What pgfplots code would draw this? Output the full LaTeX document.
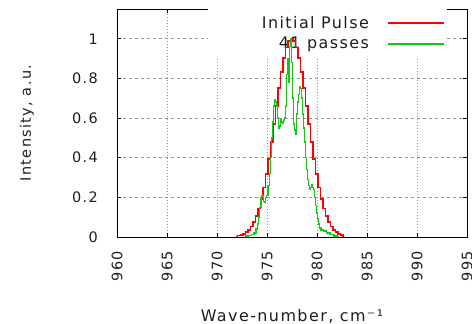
\documentclass[border=0pt]{standalone}
\usepackage{fontspec}
\setmainfont{DejaVu Sans}[LetterSpace=9]
\usepackage{pgfplots}
\pgfplotsset{compat=1.18}

\definecolor{pulsered}{rgb}{1,0,0}
\definecolor{passgreen}{RGB}{20,200,20}
\definecolor{gridgray}{RGB}{150,150,150}
\definecolor{txt}{RGB}{30,30,30}

% initial Gaussian pulse
\pgfplotstableread{
x y
971.9 0.000
972.2 0.0069
972.45 0.0101
972.7 0.0158
972.95 0.0242
973.2 0.0361
973.45 0.0528
973.7 0.0754
973.95 0.1052
974.2 0.1434
974.45 0.1912
974.7 0.2490
974.95 0.3170
975.2 0.3943
975.45 0.4794
975.7 0.5695
975.95 0.6613
976.2 0.7504
976.45 0.8321
976.7 0.9018
976.95 0.9551
977.2 0.9886
977.45 1.0000
977.7 0.9886
977.95 0.9551
978.2 0.9018
978.45 0.8321
978.7 0.7504
978.95 0.6613
979.2 0.5695
979.45 0.4794
979.7 0.3943
979.95 0.3170
980.2 0.2490
980.45 0.1912
980.7 0.1434
980.95 0.1052
981.2 0.0754
981.45 0.0528
981.7 0.0361
981.95 0.0242
982.2 0.0158
982.45 0.0101
982.7 0.000
}\initial

% spectrum after 41 passes
\pgfplotstableread{
x y
972.8 0.000
973.0 0.005
973.3 0.008
973.6 0.012
973.8 0.020
974.0 0.040
974.1 0.065
974.2 0.100
974.3 0.150
974.45 0.200
974.55 0.210
974.7 0.180
974.8 0.175
974.9 0.200
975.0 0.210
975.15 0.260
975.3 0.320
975.4 0.400
975.5 0.500
975.6 0.580
975.7 0.660
975.8 0.690
975.9 0.680
976.0 0.660
976.1 0.600
976.2 0.550
976.3 0.560
976.4 0.590
976.5 0.580
976.6 0.575
976.7 0.590
976.8 0.600
976.9 0.660
977.0 0.820
977.1 0.900
977.2 0.780
977.3 0.960
977.4 1.000
977.5 0.880
977.6 0.700
977.7 0.570
977.8 0.540
977.9 0.520
978.0 0.620
978.1 0.680
978.2 0.720
978.3 0.760
978.4 0.750
978.5 0.700
978.6 0.620
978.7 0.550
978.8 0.480
978.9 0.400
979.0 0.340
979.1 0.290
979.2 0.260
979.3 0.240
979.4 0.250
979.5 0.265
979.6 0.250
979.7 0.240
979.8 0.200
979.9 0.160
980.0 0.120
980.1 0.090
980.2 0.065
980.3 0.045
980.5 0.035
980.8 0.030
981.1 0.020
981.5 0.012
981.9 0.005
982.2 0.000
}\passes

\pgfplotsset{
  common/.style={
    scale only axis, width=350bp, height=228bp,
    xmin=960, xmax=995, ymin=0, ymax=1.15,
  },
}

\begin{document}
\begin{tikzpicture}
\useasboundingbox (-117bp,-87bp) rectangle (355bp,237bp);
% frame, grid, ticks and legend
\begin{axis}[common,
  font=\fontsize{14.5}{17}\selectfont,
  /pgf/number format/assume math mode=true,
  axis line style={black, line width=0.8bp},
  xtick={960,965,...,995}, ytick={0,0.2,...,1},
  yticklabels={0,0.2,0.4,0.6,0.8,1},
  xticklabels={960,965,970,975,980,985,990,995},
  tick align=inside, major tick length=4bp,
  tick style={black, line width=0.7bp},
  xticklabel style={rotate=90, anchor=east, inner sep=0pt, text=txt},
  xticklabel shift=14bp,
  yticklabel style={anchor=east, inner sep=0pt, text=txt},
  yticklabel shift=19bp,
  grid=major,
  x grid style={gridgray, line width=0.6bp, dash pattern=on 1bp off 2bp},
  y grid style={gridgray, line width=0.6bp, dash pattern=on 3bp off 3bp},
  xlabel={Wave-number, cm⁻¹},
  ylabel={Intensity, a.u.},
  every axis x label/.style={at={(axis description cs:0.5,0)}, yshift=-79bp, anchor=center, text=txt,
    font=\fontsize{16}{18}\selectfont},
  every axis y label/.style={at={(axis description cs:0,0.5)}, xshift=-90bp, rotate=90, anchor=center, text=txt},
  legend plot pos=right,
  legend cell align=right,
  legend style={at={(axis description cs:0.943,1)}, anchor=north east,
    fill=white, draw=none, inner xsep=2bp, inner ysep=5bp, row sep=3.5bp,
    font=\fontsize{16}{18}\selectfont,
    nodes={inner sep=2bp, text=txt}},
]
\addlegendimage{legend image code/.code={\path (0bp,0bp); \draw[draw=pulsered, line width=1.5bp] (17bp,0bp) -- (73bp,0bp);}}
\addlegendentry{\hspace*{50bp}Initial Pulse}
\addlegendimage{legend image code/.code={\path (0bp,0bp); \draw[draw=passgreen, line width=1.5bp] (17bp,0bp) -- (73bp,0bp);}}
\addlegendentry{41 passes}
\end{axis}
% the two spectra, drawn above the legend box
\begin{axis}[common, hide axis]
\addplot[draw=pulsered, line width=1.5bp, const plot mark mid] table[x=x, y=y] {\initial};
\addplot[draw=passgreen, line width=1.5bp, const plot mark mid] table[x=x, y=y] {\passes};
\end{axis}
\end{tikzpicture}
\end{document}
